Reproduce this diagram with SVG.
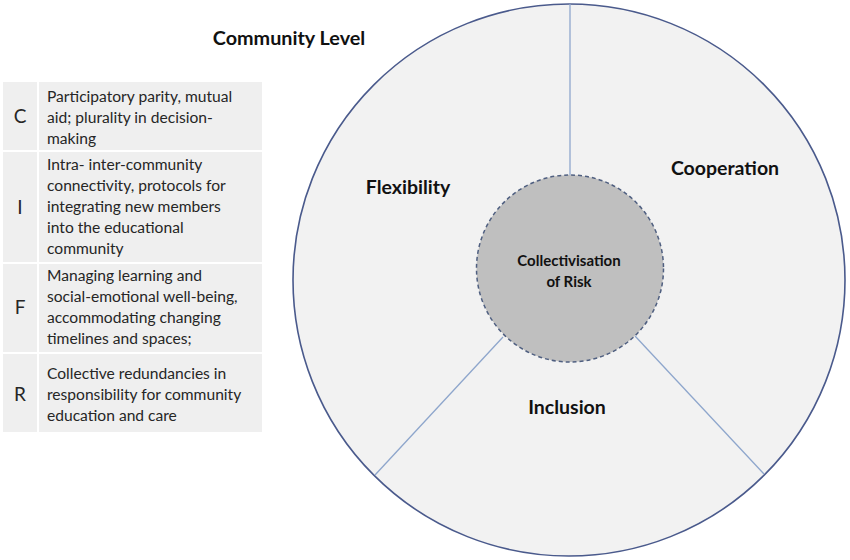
<svg xmlns="http://www.w3.org/2000/svg" width="850" height="560" viewBox="0 0 850 560">
<style>
.cell{fill:#efefef}
.t{font-family:"Lato","Liberation Sans",sans-serif;font-size:15.6px;fill:#262626}
.k{font-family:"Lato","Liberation Sans",sans-serif;font-size:19px;fill:#262626;text-anchor:middle}
.lbl{font-family:"Lato","Liberation Sans",sans-serif;font-weight:bold;font-size:19.5px;fill:#111;text-anchor:middle}
.div{stroke:#8ea6cc;stroke-width:1.3;fill:none}
</style>
<rect width="850" height="560" fill="#ffffff"/>
<text x="289" y="45" class="lbl" style="font-size:19.8px">Community Level</text>
<g id="table">
  <g id="row-c">
    <rect class="cell" x="3" y="82" width="34" height="68"/>
    <rect class="cell" x="39" y="82" width="223" height="68"/>
    <text class="k" x="20" y="123">C</text>
    <text class="t" x="47" y="102">Participatory parity, mutual</text>
    <text class="t" x="47" y="123">aid; plurality in decision-</text>
    <text class="t" x="47" y="144">making</text>
  </g>
  <g id="row-i">
    <rect class="cell" x="3" y="152" width="34" height="110"/>
    <rect class="cell" x="39" y="152" width="223" height="110"/>
    <text class="k" x="20" y="214">I</text>
    <text class="t" x="47" y="170">Intra- inter-community</text>
    <text class="t" x="47" y="191">connectivity, protocols for</text>
    <text class="t" x="47" y="212">integrating new members</text>
    <text class="t" x="47" y="233">into the educational</text>
    <text class="t" x="47" y="254">community</text>
  </g>
  <g id="row-f">
    <rect class="cell" x="3" y="264" width="34" height="88"/>
    <rect class="cell" x="39" y="264" width="223" height="88"/>
    <text class="k" x="20" y="314">F</text>
    <text class="t" x="47" y="281">Managing learning and</text>
    <text class="t" x="47" y="302">social-emotional  well-being,</text>
    <text class="t" x="47" y="323">accommodating changing</text>
    <text class="t" x="47" y="344">timelines  and spaces;</text>
  </g>
  <g id="row-r">
    <rect class="cell" x="3" y="354" width="34" height="78"/>
    <rect class="cell" x="39" y="354" width="223" height="78"/>
    <text class="k" x="20" y="401">R</text>
    <text class="t" x="47" y="379">Collective  redundancies  in</text>
    <text class="t" x="47" y="400">responsibility  for community</text>
    <text class="t" x="47" y="421">education and care</text>
  </g>
</g>
<g id="outer-circle">
  <circle cx="569" cy="280" r="276" fill="#f2f2f2" stroke="#4a5a8c" stroke-width="1.6"/>
</g>
<g id="connectors">
  <line class="div" x1="570" y1="4" x2="570" y2="175"/>
  <line class="div" x1="503" y1="337" x2="375" y2="475"/>
  <line class="div" x1="635" y1="336" x2="764" y2="474"/>
</g>
<g id="center">
  <circle cx="570" cy="268.5" r="93.5" fill="#bfbfbf" stroke="#4f5f80" stroke-width="1.5" stroke-dasharray="4,3"/>
  <text class="lbl" x="569" y="266" style="font-size:15px">Collectivisation</text>
  <text class="lbl" x="569" y="287" style="font-size:15px">of Risk</text>
</g>
<g id="flexibility"><text class="lbl" x="408" y="194">Flexibility</text></g>
<g id="cooperation"><text class="lbl" x="725" y="175">Cooperation</text></g>
<g id="inclusion"><text class="lbl" x="567" y="414">Inclusion</text></g>
</svg>
